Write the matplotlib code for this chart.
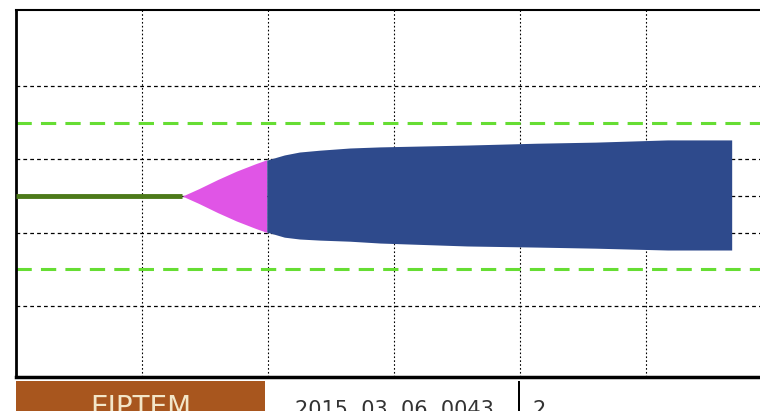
import matplotlib
matplotlib.use("Agg")
import matplotlib.pyplot as plt
from matplotlib.patches import Rectangle

# track before the cone (x in grid units, y centred on 0)
track_x = [0.0, 1.32]
track_y = [0.0, 0.0]

# magenta part of the cone
mag_x = [1.32, 1.45, 1.60, 1.75, 1.90, 1.99]
mag_hw = [0.0, 0.2, 0.45, 0.68, 0.88, 0.99]

# blue part of the cone (upper and lower half widths)
blue_x = [1.99, 2.13, 2.25, 2.41, 2.65, 2.89, 3.58, 4.13, 4.60, 5.17, 5.68]
blue_top = [0.98, 1.12, 1.20, 1.25, 1.31, 1.34, 1.39, 1.44, 1.47, 1.53, 1.53]
blue_bot = [0.98, 1.12, 1.17, 1.20, 1.23, 1.28, 1.36, 1.39, 1.42, 1.47, 1.47]

green_levels = [2, -2]
grid_y = [3, 1, 0, -1, -3]
grid_x = [1, 2, 3, 4, 5]

cells = ["EIPTEM", "2015  03  06  0043", "2"]

fig = plt.figure(figsize=(7.6, 4.11), dpi=100)
ax = fig.add_axes([16 / 760, 1 - 377 / 411, 1 - 16 / 760, 367 / 411])
ax.set_xlim(0, 744 / 126)
ax.set_ylim(-4.93, 5.07)

for gx in grid_x:
    ax.axvline(gx, color="black", lw=0.8, ls=(0, (1.5, 2)), zorder=1)
for gy in grid_y:
    ax.axhline(gy, color="black", lw=0.9, ls=(0, (3, 2.5)), zorder=1)
for gy in green_levels:
    ax.axhline(gy, color="#66dd33", lw=2.2, ls=(0, (5, 3)), zorder=2)

ax.plot(track_x, track_y, color="#4d7a1a", lw=3.5, zorder=3, solid_capstyle="butt")
ax.fill_between(mag_x, [-h for h in mag_hw], mag_hw, color="#e055e6", lw=0, zorder=3)
ax.fill_between(blue_x, [-h for h in blue_bot], blue_top, color="#2e4a8c", lw=0, zorder=4)

ax.set_xticks([])
ax.set_yticks([])
ax.spines["right"].set_visible(False)
ax.spines["left"].set_linewidth(2)
ax.spines["top"].set_linewidth(1.5)
ax.spines["bottom"].set_linewidth(2.5)

# table row below the plot
fig.patches.append(Rectangle((16 / 760, 0), 249 / 760, 30 / 411, transform=fig.transFigure,
                             facecolor="#a8561e", edgecolor="none"))
fig.patches.append(Rectangle((518 / 760, 0), 1.5 / 760, 30 / 411, transform=fig.transFigure,
                             facecolor="black", edgecolor="none"))
fig.text(141 / 760, -5 / 411, cells[0], color="#f3e6c8", fontsize=20, ha="center", va="baseline",
         family="Liberation Sans Narrow")
fig.text(394 / 760, -5 / 411, cells[1], color="#333333", fontsize=15, ha="center", va="baseline")
fig.text(532 / 760, -5 / 411, cells[2], color="#333333", fontsize=15, ha="left", va="baseline")

fig.savefig("out.png", dpi=100)
